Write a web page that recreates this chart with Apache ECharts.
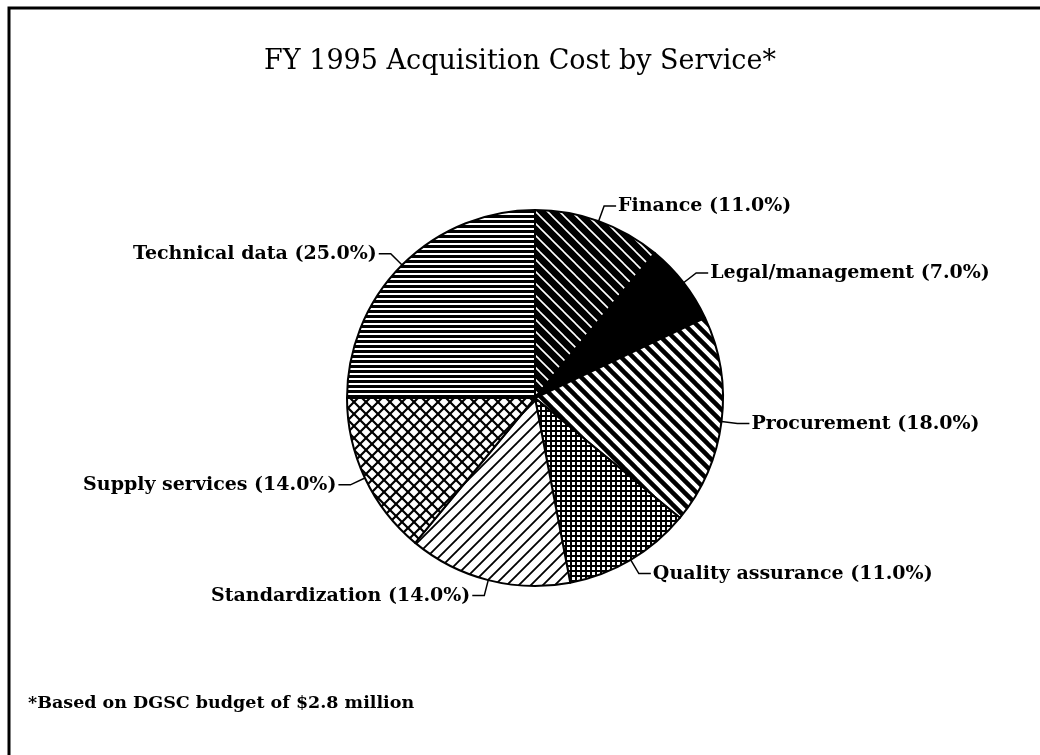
<!DOCTYPE html>
<html>
<head>
  <meta charset="utf-8">
  <script src="https://cdn.jsdelivr.net/npm/echarts@6/dist/echarts.min.js"></script>
  <style>
    html, body { margin: 0; padding: 0; background: #fff; }
  </style>
</head>
<body>
<div id="main" style="width: 1040px; height: 755px"></div>
<script>
  const services = ['Finance', 'Legal/management', 'Procurement', 'Quality assurance',
    'Standardization', 'Supply services', 'Technical data'];
  const shares = [11.0, 7.0, 18.0, 11.0, 14.0, 14.0, 25.0];
  const titleText = 'FY 1995 Acquisition Cost by Service*';
  const footnote = '*Based on DGSC budget of $2.8 million';

  // hatch fills, one per slice, in the same order as services
  const hatchKinds = ['finance', 'solid', 'backslash', 'grid', 'slash', 'diamond', 'horizontal'];

  function hatch(kind) {
    const s = kind === 'grid' ? 5 : (kind === 'horizontal' ? 5 : 12);
    const c = document.createElement('canvas');
    c.width = s; c.height = s;
    const g = c.getContext('2d');
    g.fillStyle = '#fff';
    g.fillRect(0, 0, s, s);
    g.strokeStyle = '#000';
    g.lineCap = 'square';
    const diag = (dir, w) => {
      g.lineWidth = w;
      g.beginPath();
      for (let k = -1; k <= 1; k++) {
        if (dir > 0) { g.moveTo(k * s, 0); g.lineTo(k * s + s, s); }
        else { g.moveTo(k * s + s, 0); g.lineTo(k * s, s); }
      }
      g.stroke();
    };
    if (kind === 'solid') {
      g.fillStyle = '#000'; g.fillRect(0, 0, s, s);
    } else if (kind === 'finance') {
      g.fillStyle = '#000'; g.fillRect(0, 0, s, s);
      g.strokeStyle = '#fff'; diag(1, 1.6);
    } else if (kind === 'backslash') {
      diag(1, 4.5);
    } else if (kind === 'slash') {
      diag(-1, 1.8);
    } else if (kind === 'diamond') {
      diag(1, 2.2); diag(-1, 2.2);
    } else if (kind === 'grid') {
      g.fillStyle = '#000';
      g.fillRect(0, 0, s, 2);
      g.fillRect(0, 0, 2, s);
    } else if (kind === 'horizontal') {
      g.fillStyle = '#000';
      g.fillRect(0, 0, s, 3);
    }
    return c;
  }

  const pieData = services.map((name, i) => ({
    name: name,
    value: shares[i],
    itemStyle: { color: { image: hatch(hatchKinds[i]), repeat: 'repeat' } }
  }));

  const chart = echarts.init(document.getElementById('main'));
  chart.setOption({
    backgroundColor: '#fff',
    animation: false,
    title: {
      text: titleText,
      left: 'center',
      top: 43,
      textStyle: { fontFamily: 'DejaVu Serif', fontSize: 27, fontWeight: 'normal', color: '#000' }
    },
    graphic: [
      {
        type: 'polyline',
        shape: { points: [[1040, 8], [9, 8], [9, 755]] },
        style: { stroke: '#000', lineWidth: 3, fill: null }
      },
      {
        type: 'text',
        left: 28,
        top: 694,
        style: { text: footnote, font: 'bold 17.5px "DejaVu Serif"', fill: '#000' }
      }
    ],
    series: [{
      type: 'pie',
      center: [535, 398],
      radius: 188,
      startAngle: 90,
      clockwise: true,
      data: pieData,
      itemStyle: { borderColor: '#000', borderWidth: 2 },
      emphasis: { disabled: true },
      label: {
        show: true,
        position: 'outside',
        formatter: p => p.name + ' (' + p.value.toFixed(1) + '%)',
        fontFamily: 'DejaVu Serif',
        fontWeight: 'bold',
        fontSize: 19,
        color: '#000',
        distanceToLabelLine: 2
      },
      labelLine: {
        show: true,
        length: 16,
        length2: 12,
        lineStyle: { color: '#000', width: 1.5 }
      }
    }]
  });
</script>
</body>
</html>
